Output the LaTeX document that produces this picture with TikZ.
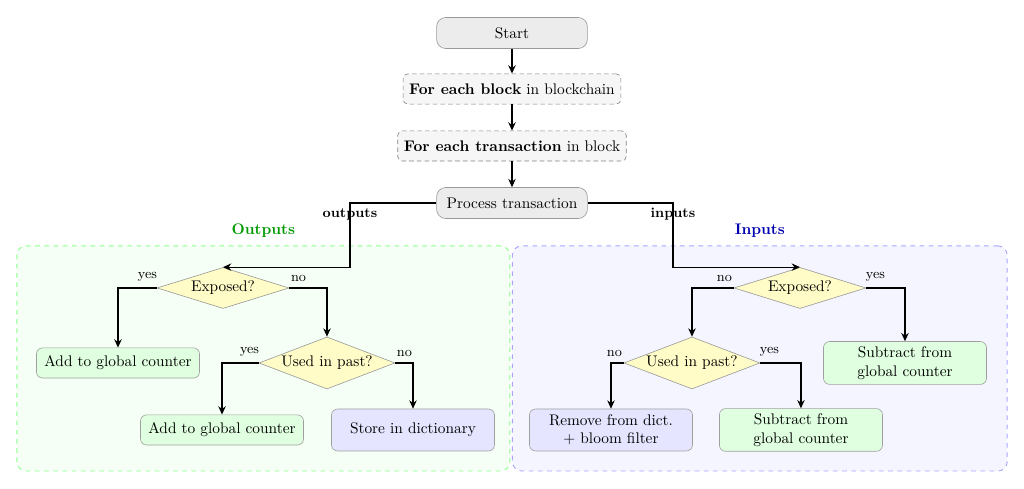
\documentclass[tikz,border=0pt]{standalone}
\usepackage{amsmath,amssymb}
\usepackage{tikz}
\usetikzlibrary{calc,arrows.meta,shapes.geometric}

\tikzset{
  term/.style = {draw = gray!80, fill = gray!15, rounded corners = 6pt,
    minimum width = 3.45cm, minimum height = 0.71cm},
  loopbox/.style = {draw = gray, dash pattern = on 3pt off 2pt, fill = gray!7, rounded corners = 3pt,
    minimum height = 0.69cm, inner sep = 4pt},
  decide/.style = {diamond, draw = gray!80, fill = yellow!22, aspect = 3, inner sep = 0pt},
  addbox/.style = {draw = gray!75, fill = green!12, rounded corners = 4pt,
    minimum width = 3.73cm, minimum height = 0.69cm, align = center},
  dictbox/.style = {draw = gray!75, fill = blue!10, rounded corners = 4pt,
    minimum width = 3.73cm, minimum height = 0.96cm, align = center},
  outframe/.style = {draw = green!45, dashed, semithick, fill = green!4, rounded corners = 6pt},
  inframe/.style = {draw = blue!35, dashed, semithick, fill = blue!4, rounded corners = 6pt},
  arr/.style = {-{Stealth[length = 1.9mm, width = 1.7mm]}, thick},
  lyn/.style = {font = \small, inner sep = 1pt, anchor = south, xshift = -6pt, yshift = 3pt},
  ryn/.style = {font = \small, inner sep = 1pt, anchor = south, xshift = 6pt, yshift = 3pt},
  lbl/.style = {font = \small\bfseries, inner sep = 0pt},
}

\begin{document}
\begin{tikzpicture}
  \useasboundingbox (-11.715,0.755) rectangle (11.715,-10.433);
  % areas
  \node[outframe, minimum width = 11.28cm, minimum height = 5.15cm](outarea)at(-5.69,-7.447){};
  \node[font = \bfseries, text = green!60!black, above, yshift = 1.5pt](outtitle)at(outarea.north){Outputs};
  \node[inframe, minimum width = 11.32cm, minimum height = 5.15cm](inarea)at(5.67,-7.447){};
  \node[font = \bfseries, text = blue!70!black, above, yshift = 1.5pt](intitle)at(inarea.north){Inputs};
  % main line
  \node[term](start)at(0,0){Start};
  \node[loopbox](block)at(0,-1.281){\textbf{For each block} in blockchain};
  \node[loopbox](tx)at(0,-2.585){\textbf{For each transaction} in block};
  \node[term](proc)at(0,-3.890){Process transaction};
  % outputs
  \node[decide, minimum width = 3.02cm, minimum height = 0.94cm](eo)at(-6.612,-5.834){Exposed?};
  \node[addbox](addA)at(-9.015,-7.550){Add to global counter};
  \node[decide, minimum width = 3.11cm, minimum height = 1.19cm](uo)at(-4.233,-7.550){Used in past?};
  \node[addbox](addB)at(-6.635,-9.083){Add to global counter};
  \node[dictbox](store)at(-2.265,-9.083){Store in dictionary};
  % inputs
  \node[decide, minimum width = 3.02cm, minimum height = 0.94cm](ei)at(6.589,-5.834){Exposed?};
  \node[decide, minimum width = 3.11cm, minimum height = 1.19cm](ui)at(4.118,-7.550){Used in past?};
  \node[addbox, minimum height = 0.98cm](subA)at(8.992,-7.550){Subtract from\\global counter};
  \node[dictbox](remove)at(2.265,-9.083){Remove from dict.\\+ bloom filter};
  \node[addbox, minimum height = 0.96cm](subB)at(6.612,-9.083){Subtract from\\global counter};
  % bends
  \coordinate(ob)at($(eo.north)+(2.905,0)$);
  \coordinate(ib)at($(ei.north)+(-2.905,0)$);
  % arrows
  \draw[arr](start)--(block);
  \draw[arr](block)--(tx);
  \draw[arr](tx)--(proc);
  \draw[arr](proc.west)-|node[lbl, pos = 0.59]{outputs}(ob)--(eo.north);
  \draw[arr](proc.east)-|node[lbl, pos = 0.59]{inputs}(ib)--(ei.north);
  \draw[arr](eo.west)node[lyn]{yes}-|(addA.north);
  \draw[arr](eo.east)node[ryn]{no}-|(uo.north);
  \draw[arr](uo.west)node[lyn]{yes}-|(addB.north);
  \draw[arr](uo.east)node[ryn]{no}-|(store.north);
  \draw[arr](ei.west)node[lyn]{no}-|(ui.north);
  \draw[arr](ei.east)node[ryn]{yes}-|(subA.north);
  \draw[arr](ui.west)node[lyn]{no}-|(remove.north);
  \draw[arr](ui.east)node[ryn]{yes}-|(subB.north);
\end{tikzpicture}
\end{document}
